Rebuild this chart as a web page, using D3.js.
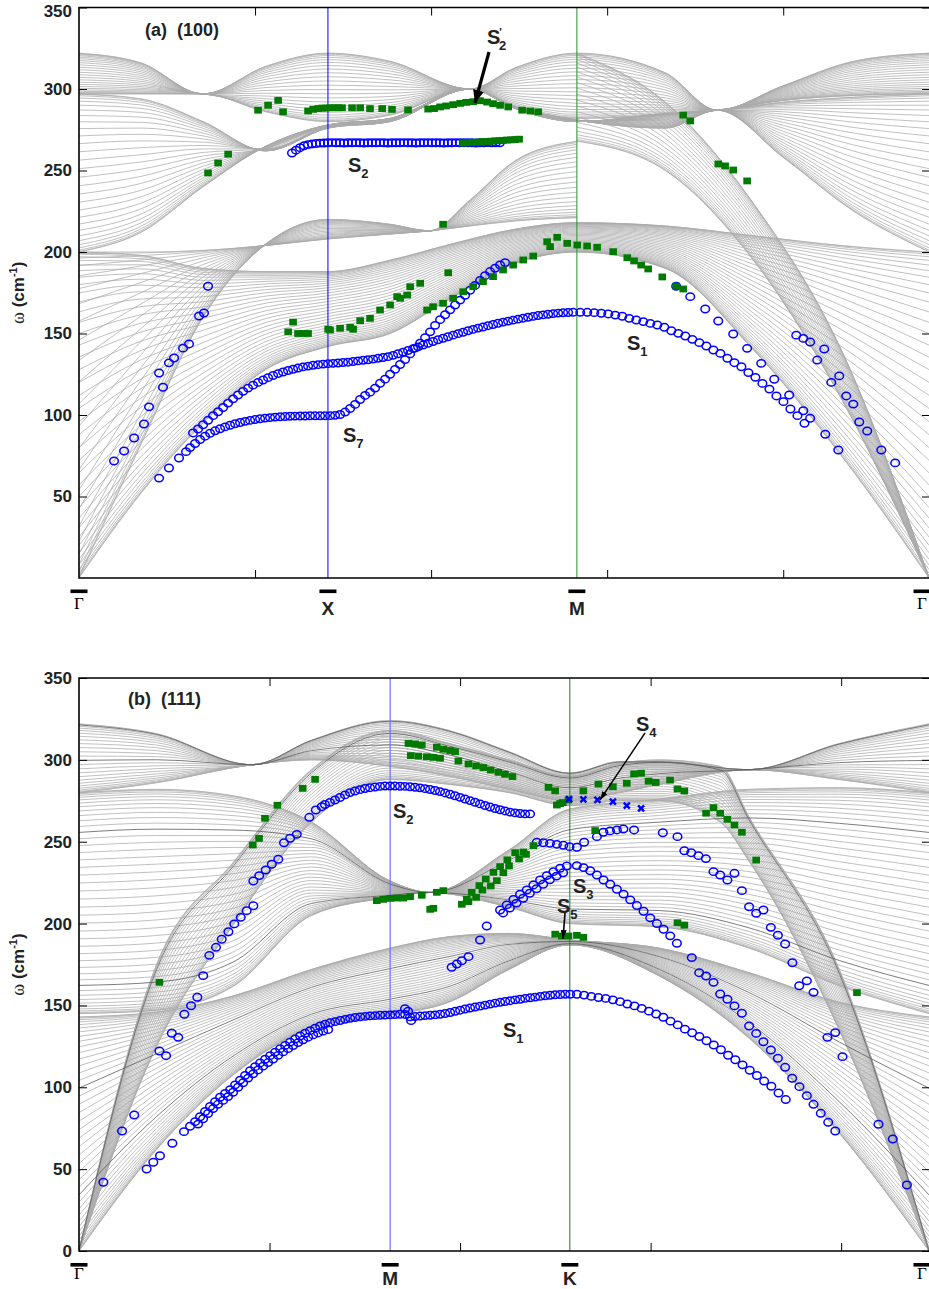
<!DOCTYPE html>
<html>
<head>
<meta charset="utf-8">
<script src="https://cdn.jsdelivr.net/npm/d3@7"></script>
<style>
  body { margin: 0; background: #fff; }
  svg { display: block; }
</style>
</head>
<body>
<svg id="chart" width="929" height="1289"></svg>
<script>
// ---------------------------------------------------------------
// Surface phonon dispersion of (100) and (111) slabs.
// k is the distance along the surface Brillouin-zone path,
// omega in cm^-1.
// ---------------------------------------------------------------

// ---------- panel (a): (100) surface, path Γ-X-M-Γ ----------
const aSymK = [0, 1.414, 2.828, 4.828];
const aSymLabels = ["Γ", "X", "M", "Γ"];
const aTicksY = [50, 100, 150, 200, 250, 300, 350];

// slab-mode bands: each family fans out between two edge curves
const aBands = [
  { k: [0, .352, .705, 1.063, 1.414, 1.767, 2.119, 2.477, 2.828, 3.33, 3.83, 4.33, 4.828],
    e0: [0, 52, 95, 128, 142, 150, 172, 193, 200, 190, 140, 75, 0],
    e1: [200, 198, 190, 188, 188, 195, 205, 214, 218, 216, 210, 204, 200], n: 40 },
  { k: [0, .352, .705, 1.063, 1.414, 1.767, 1.994, 2.222, 2.477, 2.828],
    e0: [0, 82, 160, 205, 220, 217, 213, 232, 256, 268],
    e1: [200, 200, 201, 204, 208, 211, 213, 216, 219, 221], n: 24 },
  { k: [0, .352, .705, 1.063, 1.414, 1.767, 2.222, 2.477, 2.828, 3.33, 3.625, 4.0, 4.4, 4.828],
    e0: [322, 316, 297, 314, 322, 317, 300, 313, 322, 310, 287, 302, 317, 322],
    e1: [297, 297, 297, 286, 280, 284, 300, 289, 282, 284, 287, 293, 296, 297], n: 26 },
  { k: [0, .352, .705, 1.063, 1.414, 1.767, 2.222, 2.477, 2.828, 3.33, 3.625, 4.0, 4.4, 4.828],
    e0: [200, 212, 240, 265, 278, 282, 300, 289, 281, 276, 287, 258, 225, 200],
    e1: [297, 294, 280, 262, 276, 280, 300, 288, 280, 285, 287, 292, 295, 297], n: 30 },
  { k: [2.828, 3.33, 3.83, 4.33, 4.828],
    e0: [322, 292, 230, 140, 0],
    e1: [268, 250, 195, 110, 0], n: 24 }
];

// surface modes, blue circles (dense runs: start k, step, omegas)
const aS7Start = [[0.455, 61.3], [0.511, 67.5], [0.568, 73.6], [0.608, 77.5]];
const aS7Run = { k0: 0.631, dk: 0.0284, w: [
  80, 82.5, 85, 87, 88.8, 90.3, 91.6, 92.7, 93.7, 94.6,
  95.4, 96.1, 96.7, 97.2, 97.7, 98.1, 98.4, 98.7, 98.9, 99.1,
  99.2, 99.3, 99.4, 99.4, 99.5, 99.5, 99.5, 99.5, 99.6, 99.8,
  100.3, 101.8, 104, 106.5, 109.5, 112, 114, 116.5, 119.5, 122,
  125, 128, 131, 134, 137.5, 141, 144, 147.5, 151, 155,
  158.5, 161.5, 164.5, 167.5, 170.5, 173.5, 176.5, 179.5, 182.5, 185.5,
  188, 190, 192, 193.5] };
const aS1Run = { k0: 0.648, dk: 0.0284, w: [
  89, 91.4, 94, 96.8, 99.6, 102, 104.6, 107.3, 109.9, 112.3,
  114.5, 116.5, 118.3, 120, 121.5, 122.9, 124.2, 125.4, 126.4, 127.3,
  128.1, 128.8, 129.5, 130, 130.5, 130.9, 131.2,
  131.5, 131.7, 131.9, 132.2, 132.4, 132.8, 133.2, 133.6, 133.9, 134.3,
  134.8, 135.3, 135.8, 136.6, 137.6, 138.6, 139.6, 140.7, 141.8, 142.9,
  144, 145.1, 146.2, 147.1, 148, 149, 149.9, 150.8, 151.7, 152.5,
  153.3, 154, 154.8, 155.5, 156.3, 157, 157.6, 158.2, 158.8, 159.4,
  160, 160.5, 161, 161.4, 161.8, 162.2, 162.5, 162.7, 162.9, 163] };
const aS1MGRun = { k0: 2.847, dk: 0.0398, w: [
  163, 163, 162.8, 162.4, 162, 161.3, 160.6, 159.3, 158.3, 157.3,
  156.2, 155.2, 153.8, 151.7, 150.1, 148.5, 146.4, 144.4, 142.3, 139.9,
  137.8, 134.8, 132.1, 129.6, 126, 123.1, 119.4, 115.9, 111.7, 108.2,
  103.7, 99.6, 94.9] };
const aS2Run = { k0: 1.210, dk: 0.0227, w: [
  260.7, 262.5, 264, 265.2, 265.9, 266.3, 266.6, 266.8, 266.9, 267,
  267.1, 267, 267, 266.9, 267, 267, 267.1, 267, 266.9, 267,
  267, 267, 267.1, 267, 266.9, 267, 267, 267, 267.1, 267,
  267, 266.9, 267, 267, 267.1, 267, 267, 267, 266.9, 267,
  267, 267.1, 267, 267, 267, 267, 266.9, 267, 267, 267.1,
  267, 267, 267] };
const aBlueScatter = [
  [0.199, 71.8], [0.256, 77.9], [0.313, 85.9], [0.369, 94.5], [0.398, 105],
  [0.477, 117], [0.455, 125.8], [0.511, 132], [0.540, 135], [0.591, 141],
  [0.625, 143.6], [0.682, 160.7], [0.710, 162.6], [0.733, 179],
  [3.392, 179], [3.472, 172.6], [3.557, 165], [3.631, 157.7], [3.716, 149.7],
  [3.795, 140.9], [3.875, 131.7], [3.949, 121.9], [4.034, 112.3], [4.114, 102.6],
  [4.153, 98], [4.239, 88.2], [4.313, 78.5],
  [4.074, 149], [4.114, 147], [4.153, 144.8], [4.233, 140.5], [4.193, 133.7],
  [4.273, 120], [4.318, 124], [4.358, 111.7], [4.398, 106.7], [4.432, 95.7],
  [4.477, 90.2], [4.557, 78.5], [4.636, 70.6]];

// surface resonances, green squares
const aGreenOnS2 = { k0: 2.182, dk: 0.0227, w: [
  266.8, 267, 267.2, 267.3, 267.5, 267.7, 267.8, 268, 268.2, 268.3,
  268.5, 268.7, 268.8, 269, 269.2] };
const aGreen = [
  [0.733, 248.5], [0.790, 254.6], [0.847, 260],
  [1.017, 287], [1.074, 290], [1.131, 293], [1.159, 286],
  [1.301, 286.5], [1.330, 287.5], [1.358, 288], [1.381, 288.3], [1.403, 288.3],
  [1.426, 288.5], [1.449, 288.5], [1.472, 288.5], [1.494, 288.5], [1.551, 288.5],
  [1.597, 288.5], [1.653, 288], [1.722, 288], [1.778, 287.5], [1.869, 287.2],
  [1.983, 287.7], [2.017, 288], [2.051, 289], [2.085, 289.6], [2.125, 290.4],
  [2.165, 291.2], [2.199, 291.8], [2.239, 292.2], [2.278, 292.8], [2.318, 292],
  [2.352, 291], [2.392, 290], [2.438, 289], [2.517, 287], [2.563, 286.5], [2.608, 286],
  [2.068, 217],
  [1.188, 151], [1.216, 157], [1.244, 150], [1.273, 150], [1.301, 150],
  [1.415, 152.6], [1.426, 152.1], [1.483, 153.2], [1.540, 153.8], [1.557, 152.6],
  [1.597, 157.9], [1.653, 159.3], [1.710, 164.4], [1.767, 167.5], [1.807, 172.6],
  [1.824, 171.6], [1.864, 173.6], [1.881, 178.7], [1.938, 180.8], [2.097, 187.3],
  [1.977, 164.4], [2.011, 166.4], [2.068, 168.5], [2.125, 171.6], [2.182, 175.6],
  [2.239, 178.7], [2.295, 181.8], [2.352, 184.9], [2.409, 189], [2.466, 192],
  [2.523, 195.1], [2.580, 197.5], [2.659, 206.3], [2.676, 203.3], [2.716, 209],
  [2.773, 205.3], [2.830, 204.3], [2.886, 203.7], [2.943, 202.9], [3.034, 200.2],
  [3.114, 196.5], [3.153, 194.5], [3.193, 192], [3.233, 189.6], [3.313, 184.7],
  [3.392, 179.1], [3.432, 177.3],
  [3.432, 284], [3.472, 280.4], [3.631, 254], [3.670, 252.8], [3.716, 250.3], [3.795, 243.6]];

// ---------- panel (b): (111) surface, path Γ-M-K-Γ ----------
const bSymK = [0, 1.633, 2.576, 4.461];
const bSymLabels = ["Γ", "M", "K", "Γ"];
const bTicksY = [0, 50, 100, 150, 200, 250, 300, 350];

const bBands = [
  { k: [0, .407, .814, 1.22, 1.633, 1.942, 2.257, 2.576, 3.045, 3.517, 3.99, 4.461],
    e0: [0, 62, 108, 136, 144, 152, 172, 187, 168, 130, 72, 0],
    e1: [143, 146, 156, 172, 185, 192, 194, 190, 185, 170, 152, 143], n: 44, dark: [14, 27] },
  { k: [0, .407, .814, 1.22, 1.633, 1.942, 2.257, 2.576, 2.84, 3.045, 3.365, 3.517, 3.99, 4.461],
    e0: [0, 175, 238, 294, 318, 310, 300, 290, 298, 300, 296, 265, 172, 0],
    e1: [0, 125, 200, 262, 288, 285, 280, 272, 275, 275, 262, 238, 135, 0], n: 26, dark: [4] },
  { k: [0, .407, .908, 1.22, 1.633, 1.942, 2.257, 2.576, 2.84, 3.045, 3.517, 3.99, 4.461],
    e0: [322, 316, 297, 312, 324, 318, 305, 292, 299, 299, 294, 310, 322],
    e1: [280, 286, 297, 300, 296, 290, 282, 275, 280, 285, 294, 288, 280], n: 26, dark: [2, 13] },
  { k: [0, .407, .814, 1.22, 1.633, 1.843, 2.257, 2.576, 3.045, 3.517, 3.99, 4.461],
    e0: [280, 282, 278, 262, 226, 219, 245, 270, 276, 282, 283, 280],
    e1: [145, 147, 162, 205, 216, 219, 210, 200, 198, 185, 162, 145], n: 44, dark: [12, 33] }
];

const bS1Start = [[0.355, 50.1], [0.390, 54.2], [0.425, 58.2], [0.490, 65.8], [0.551, 72.9]];
const bS1Run = { k0: 0.583, dk: 0.02625, w: [
  76.2, 79, 82, 85.2, 88.3, 91.2, 93.9, 96.2, 98.6, 101.5,
  104.4, 107.3, 110.1, 112.6, 114.9, 117.1, 119.3, 121.5, 123.6, 125.6,
  127.6, 129.5, 131.3, 133, 134.6, 136.1, 137.5, 138.6, 139.4, 140.1,
  140.8, 141.5, 142.1, 142.6, 143, 143.3, 143.6, 143.8, 144, 144.1, 144.2] };
const bS1Run2 = { k0: 0.625, dk: 0.02625, w: [
  77.5, 80.8, 84, 87, 89.6, 92, 94.3, 97, 100, 102.8,
  105.6, 108.2, 110.6, 112.9, 115.1, 117.3, 119.5, 121.6, 123.6, 125.5,
  127.3, 129, 130.6, 132, 133.2, 134.3, 135.2] };
const bS1MKRun = { k0: 1.659, dk: 0.02625, w: [
  144.4, 144.6, 144.5, 143, 143.2, 143.5, 143.8, 144, 144.2, 144.6,
  145.1, 145.7, 146.4, 147.1, 147.8, 148.4, 149, 149.6, 150.2, 150.8,
  151.4, 151.9, 152.4, 152.9, 153.4, 153.8, 154.3, 154.7, 155.1, 155.5,
  155.9, 156.2, 156.5, 156.7, 156.8, 156.8] };
const bS1KGRun = { k0: 2.613, dk: 0.0378, w: [
  156.8, 156.3, 155.5, 154.8, 154.3, 153.4, 152.3, 150.9, 149.7, 148.2,
  146.5, 144.8, 142.8, 140.4, 138.1, 135.5, 133.3, 131, 128.4, 125.8,
  122.9, 119.6, 116.8, 113.7, 110.4, 107.2, 103.8, 100.6, 96.5, 92.5] };
const bS2Run = { k0: 1.291, dk: 0.02625, w: [
  272.7, 274, 275.5, 277, 278.6, 280, 281, 281.8, 282.5, 283,
  283.4, 283.8, 284, 284, 284, 283.9, 283.8, 283.6, 283.3, 282.9,
  282.4, 281.9, 281.3, 280.6, 279.8, 279, 278.1, 277.1, 276.1, 275.1,
  274.1, 273.1, 272.1, 271.2, 270.3, 269.5, 268.8, 268.1, 267.6, 267.2,
  267, 267] };
const bS3RiseRun = { k0: 2.210, dk: 0.035, w: [
  208.3, 211.4, 214.8, 217.9, 220.5, 223.6, 226.6, 229.3, 231.7, 233.8, 235.2] };
const bS3RiseRun2 = { k0: 2.226, dk: 0.035, w: [
  206.5, 209.5, 212.5, 215.5, 218.5, 221.3, 224, 226.7, 229, 231] };
const bS3FallRun = { k0: 2.613, dk: 0.035, w: [
  235.4, 234.2, 232.3, 229.7, 226.6, 224, 221, 218, 214.5, 211,
  207.5, 203.5, 200, 196.5, 192.5, 188] };
const bBlueScatter = [
  [0.128, 42], [0.226, 73.3], [0.290, 83.1], [0.422, 122.2], [0.457, 119.3],
  [0.487, 133], [0.521, 130.5], [0.553, 144.6], [0.588, 149.8], [0.621, 155],
  [0.652, 168.2], [0.684, 180.6], [0.719, 185.5], [0.749, 190.4], [0.784, 195],
  [0.815, 199.8], [0.849, 203.8], [0.880, 207.9], [0.915, 210.9],
  [0.915, 226], [0.946, 229.3], [0.980, 232.7], [1.012, 236.2], [1.046, 239.3],
  [1.076, 249.4], [1.108, 252.1], [1.143, 254.5],
  [1.209, 264.9], [1.243, 269.4], [1.274, 271.4],
  [1.711, 148], [1.727, 146.5], [1.743, 140.7],
  [1.956, 173.3], [1.983, 175.3], [2.009, 177.3], [2.044, 179.8], [2.105, 190], [2.140, 198.5],
  [3.216, 179.2], [3.255, 170], [3.291, 168], [3.330, 164.1], [3.365, 157],
  [3.403, 153.8], [3.440, 149.7], [3.479, 145.2], [3.517, 137.4], [3.554, 132.9],
  [3.592, 127.8], [3.631, 122.8], [3.668, 117.7], [3.706, 112.2], [3.743, 105.5],
  [3.781, 100.4], [3.820, 94.9], [3.855, 89.6], [3.893, 84.1], [3.932, 78.6], [3.969, 73.3],
  [2.403, 249.7], [2.437, 249.4], [2.472, 249], [2.508, 248.4], [2.542, 247.8],
  [2.574, 247], [2.613, 246.6], [2.651, 249.7], [2.718, 253.1], [2.752, 255.8],
  [2.787, 256.6], [2.823, 257.2], [2.857, 257.8], [2.913, 257.2], [3.064, 255.5],
  [3.141, 253.1], [3.177, 244.5], [3.213, 243.3], [3.251, 241.5], [3.290, 239.7],
  [3.330, 231.7], [3.365, 229.7], [3.403, 226.6], [3.440, 230.7], [3.479, 220.1],
  [3.517, 210.3], [3.554, 206.3], [3.592, 208.3], [3.631, 197.7], [3.668, 192.9],
  [3.706, 187.5], [3.744, 176.1], [3.780, 162], [3.820, 165], [3.855, 158],
  [3.928, 130.5], [3.969, 133.4], [4.007, 118.7], [4.196, 77.4], [4.271, 68.4], [4.345, 40.3]];
const bCross = [[2.572, 276], [2.647, 275.9], [2.721, 275.5], [2.802, 274.5], [2.875, 272], [2.950, 270.4]];
const bGreen = [
  [0.422, 164.1], [0.912, 248], [0.945, 252], [0.976, 264.3], [1.041, 272.3],
  [1.174, 282.6], [1.239, 288.1],
  [1.729, 310.1], [1.764, 309.7], [1.799, 309.1], [1.878, 307.7], [1.912, 306.5],
  [1.948, 305.7], [1.974, 305],
  [1.741, 302.6], [1.781, 302.3], [1.825, 301.9], [1.860, 301.5], [1.895, 301],
  [1.991, 299.3], [2.044, 297.5], [2.084, 296.3], [2.122, 295.3], [2.161, 293.8],
  [2.201, 292.4], [2.236, 291.2], [2.275, 289.8], [2.464, 283.2], [2.499, 281.1],
  [2.508, 272.4], [2.525, 273.3], [2.539, 273.9], [2.569, 275.5], [2.647, 281.1],
  [2.709, 256.8], [2.726, 285.2], [2.802, 283.6], [2.875, 285.7], [2.913, 291.4],
  [2.950, 291.8], [2.989, 287], [3.027, 286.2], [3.102, 287.6], [3.141, 282.2],
  [3.177, 281], [3.291, 267.4], [3.330, 270.8], [3.365, 267.4], [3.403, 263.7],
  [3.440, 260.2], [3.479, 255.8], [3.554, 238.8], [3.141, 200.5], [3.177, 199],
  [4.083, 157.8],
  [2.499, 193.5], [2.534, 192.4], [2.569, 192.4], [2.613, 192.8], [2.647, 191.6],
  [1.563, 214], [1.597, 214.8], [1.633, 215.4], [1.668, 215.6], [1.702, 215.6],
  [1.738, 216.4], [1.799, 217.3], [1.878, 219.1], [1.912, 220.1], [1.843, 208.7], [1.860, 209.3],
  [2.009, 211.8], [2.035, 214.8], [2.061, 219.1], [2.101, 223.2], [2.135, 227.2],
  [2.175, 231.3], [2.210, 234.8], [2.248, 238.9], [2.289, 243.3], [2.332, 243.7], [2.385, 247.6],
  [2.044, 213.4], [2.084, 216], [2.117, 220.5], [2.161, 223], [2.193, 226.2],
  [2.227, 231.1], [2.257, 235.2], [2.310, 239.5], [2.346, 242.3]];

// ---------------------------------------------------------------
const svg = d3.select("#chart");
const FONT = "'Liberation Sans', Arial, Helvetica, sans-serif";
const SERIF = "'Liberation Serif', 'Times New Roman', serif";

const defs = svg.append("defs");
function addHead(id, w, h) {
  defs.append("marker").attr("id", id)
    .attr("markerUnits", "userSpaceOnUse")
    .attr("markerWidth", w).attr("markerHeight", h)
    .attr("refX", w).attr("refY", h / 2).attr("orient", "auto")
    .append("path").attr("d", `M0,0L${w},${h / 2}L0,${h}Z`).attr("fill", "#000");
}
addHead("headBig", 13, 11);
addHead("headSmall", 9, 6);

const expand = run => run.w.map((w, i) => [run.k0 + i * run.dk, w]);

function drawPanel(cfg) {
  const x = d3.scaleLinear().domain([0, cfg.kMax]).range([79, 929]);
  const y = d3.scaleLinear().domain([0, 350]).range([cfg.bottom, cfg.top]);
  const g = svg.append("g");

  const clipId = "clip" + cfg.id;
  defs.append("clipPath").attr("id", clipId).append("rect")
    .attr("x", 79).attr("y", cfg.top).attr("width", 850).attr("height", cfg.bottom - cfg.top);

  const plot = g.append("g").attr("clip-path", `url(#${clipId})`);
  const line = d3.line().x(d => x(d[0])).y(d => y(d[1])).curve(d3.curveMonotoneX);

  // slab bands (grey), a few drawn darker
  const bandG = plot.append("g").attr("fill", "none");
  const darkG = plot.append("g").attr("fill", "none");
  cfg.bands.forEach(b => {
    for (let i = 0; i < b.n; i++) {
      const f = (1 - Math.cos(Math.PI * i / (b.n - 1))) / 2;
      const pts = b.k.map((kk, j) => [kk, b.e0[j] + f * (b.e1[j] - b.e0[j])]);
      const isDark = b.dark && b.dark.includes(i);
      (isDark ? darkG : bandG).append("path").attr("d", line(pts))
        .attr("stroke", isDark ? "#5a5a5a" : "#ababab")
        .attr("stroke-width", isDark ? 0.8 : 0.75);
    }
  });

  // high-symmetry verticals
  cfg.vlines.forEach(v => {
    plot.append("line").attr("x1", x(v.k)).attr("x2", x(v.k))
      .attr("y1", cfg.top).attr("y2", cfg.bottom)
      .attr("stroke", v.color).attr("stroke-width", v.w);
  });

  // blue circles
  const circG = plot.append("g").attr("fill", "none").attr("stroke", "#0000ff").attr("stroke-width", 1.5);
  cfg.circles.forEach(p => {
    circG.append("ellipse").attr("cx", x(p[0])).attr("cy", y(p[1])).attr("rx", 4.3).attr("ry", 3.7);
  });
  // green squares
  const sqG = plot.append("g").attr("fill", "#007a00");
  cfg.squares.forEach(p => {
    sqG.append("rect").attr("x", x(p[0]) - 3.8).attr("y", y(p[1]) - 3.4).attr("width", 7.6).attr("height", 6.8);
  });
  // blue crosses
  const crG = plot.append("g").attr("stroke", "#0000ff").attr("stroke-width", 2.4);
  cfg.crosses.forEach(p => {
    const cx = x(p[0]), cy = y(p[1]);
    crG.append("path").attr("d", `M${cx - 3},${cy - 3}L${cx + 3},${cy + 3}M${cx - 3},${cy + 3}L${cx + 3},${cy - 3}`);
  });

  // axes (ticks inward)
  const yAx = g.append("g").attr("transform", "translate(79,0)")
    .call(d3.axisLeft(y).tickValues(cfg.ticksY).tickSize(-8).tickPadding(7));
  yAx.select(".domain").remove();
  yAx.selectAll("text").attr("font-family", FONT).attr("font-weight", "bold").attr("font-size", 17).attr("fill", "#222");
  yAx.selectAll("line").attr("stroke", "#000");
  yAx.selectAll(".tick").filter(d => y(d) < 12).select("text").attr("dy", "0.55em");

  const yAxR = g.append("g").attr("transform", "translate(929,0)")
    .call(d3.axisRight(y).tickValues(cfg.ticksY).tickSize(-7).tickFormat(""));
  yAxR.select(".domain").remove();

  const xTop = g.append("g").attr("transform", `translate(0,${cfg.top})`)
    .call(d3.axisTop(x).tickValues([1, 2, 3, 4]).tickSize(-8).tickFormat(""));
  xTop.select(".domain").remove();
  const xBot = g.append("g").attr("transform", `translate(0,${cfg.bottom})`)
    .call(d3.axisBottom(x).tickValues([1, 2, 3, 4]).tickSize(-8).tickFormat(""));
  xBot.select(".domain").remove();

  // frame
  g.append("path").attr("fill", "none").attr("stroke", "#000").attr("stroke-width", 1.6)
    .attr("d", `M929,${cfg.top}H79V${cfg.bottom}H929`);

  // high-symmetry labels with overbars
  cfg.sym.forEach(s => {
    const sx = Math.min(x(s.k), 922);
    g.append("rect").attr("x", sx - 8.5).attr("y", cfg.barY).attr("width", 17).attr("height", 3.6).attr("fill", "#000");
    const t = g.append("text").attr("x", sx).attr("text-anchor", "middle").text(s.label);
    if (s.label === "Γ") {
      t.attr("y", cfg.labY - 6).attr("font-family", SERIF).attr("font-size", 17);
    } else {
      t.attr("y", cfg.labY).attr("font-family", FONT).attr("font-weight", "bold").attr("font-size", 19).attr("fill", "#222");
    }
  });

  // y-axis title
  const yt = g.append("text").attr("transform", `translate(24,${(cfg.top + cfg.bottom) / 2}) rotate(-90)`)
    .attr("text-anchor", "middle").attr("font-family", FONT).attr("font-weight", "bold").attr("font-size", 17).attr("fill", "#222");
  yt.append("tspan").attr("font-family", SERIF).attr("font-weight", "normal").attr("font-size", 18).text("ω");
  yt.append("tspan").text("  (cm");
  yt.append("tspan").attr("font-size", 11).attr("dy", -7).text("-1");
  yt.append("tspan").attr("dy", 7).text(")");

  // panel title
  g.append("text").attr("x", cfg.titleX).attr("y", cfg.titleY).attr("font-family", FONT)
    .attr("font-weight", "bold").attr("font-size", 18).attr("fill", "#222").attr("xml:space", "preserve").text(cfg.title);

  return { x, y, g };
}

function modeLabel(g, px, py, sub, prime) {
  const t = g.append("text").attr("x", px).attr("y", py).attr("font-family", FONT)
    .attr("font-weight", "bold").attr("font-size", 20).attr("fill", "#222");
  t.append("tspan").text("S");
  if (prime) t.append("tspan").attr("font-size", 11).attr("dy", -8).attr("dx", -1).text("'");
  t.append("tspan").attr("font-size", 13).attr("dy", prime ? 14 : 6).attr("dx", prime ? -3 : 0).text(sub);
}

// ---------- panel (a) ----------
const A = drawPanel({
  id: "a", kMax: 4.828, top: 7.5, bottom: 578,
  bands: aBands, ticksY: aTicksY,
  vlines: [{ k: aSymK[1], color: "#0000ff", w: 1 }, { k: aSymK[2], color: "#2f8f2f", w: 1 }],
  circles: [].concat(aS7Start, expand(aS7Run), expand(aS1Run), expand(aS1MGRun), expand(aS2Run), aBlueScatter),
  squares: [].concat(expand(aGreenOnS2), aGreen),
  crosses: [],
  sym: aSymK.map((k, i) => ({ k, label: aSymLabels[i] })),
  barY: 589.5, labY: 615,
  title: "(a)  (100)", titleX: 145, titleY: 36
});
modeLabel(A.g, 487, 44, "2", true);
A.g.append("line").attr("x1", 489).attr("y1", 52).attr("x2", 475).attr("y2", 103)
  .attr("stroke", "#000").attr("stroke-width", 3.2).attr("marker-end", "url(#headBig)");
modeLabel(A.g, 348, 172, "2", false);
modeLabel(A.g, 343, 442, "7", false);
modeLabel(A.g, 627, 350, "1", false);

// ---------- panel (b) ----------
const B = drawPanel({
  id: "b", kMax: 4.461, top: 678, bottom: 1251,
  bands: bBands, ticksY: bTicksY,
  vlines: [{ k: bSymK[1], color: "#6f6fff", w: 1.2 }, { k: bSymK[2], color: "#1f7a1f", w: 1 }],
  circles: [].concat(bS1Start, expand(bS1Run), expand(bS1Run2), expand(bS1MKRun), expand(bS1KGRun),
    expand(bS2Run), expand(bS3RiseRun), expand(bS3RiseRun2), expand(bS3FallRun), bBlueScatter),
  squares: bGreen,
  crosses: bCross,
  sym: bSymK.map((k, i) => ({ k, label: bSymLabels[i] })),
  barY: 1263, labY: 1285,
  title: "(b)  (111)", titleX: 128, titleY: 705
});
modeLabel(B.g, 393, 818, "2", false);
modeLabel(B.g, 503, 1037, "1", false);
modeLabel(B.g, 573, 893, "3", false);
modeLabel(B.g, 557, 913, "5", false);
modeLabel(B.g, 636, 731, "4", false);
B.g.append("line").attr("x1", 565).attr("y1", 913).attr("x2", 563).attr("y2", 939)
  .attr("stroke", "#000").attr("stroke-width", 1.6).attr("marker-end", "url(#headSmall)");
B.g.append("line").attr("x1", 645).attr("y1", 733).attr("x2", 600).attr("y2", 800)
  .attr("stroke", "#000").attr("stroke-width", 1.4).attr("marker-end", "url(#headSmall)");
</script>
</body>
</html>
